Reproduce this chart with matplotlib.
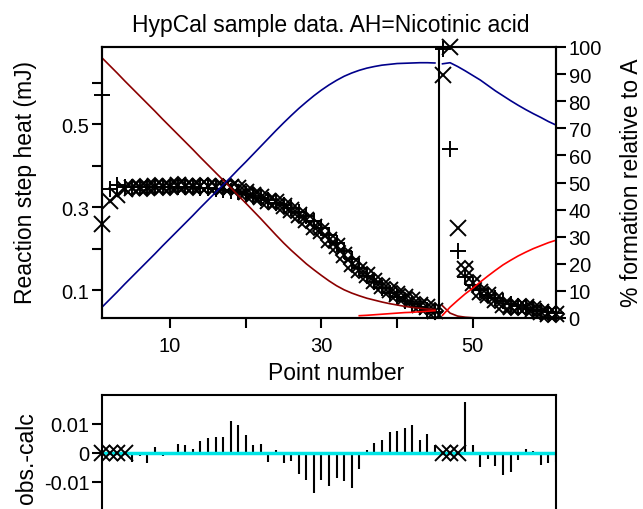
import numpy as np
import matplotlib
matplotlib.use("Agg")
import matplotlib.pyplot as plt

plt.rcParams["font.family"] = ["Liberation Sans", "DejaVu Sans"]
plt.rcParams["axes.unicode_minus"] = False

# point numbers, two titrations: 1-45 and 46-61
point_number = np.arange(1, 62)
run_break = 45
excluded = [1, 2, 3, 4, 46, 47, 48]

# observed heat (mJ), shown as x (and diamonds where not excluded)
heat_obs = np.array([
    0.260, 0.315, 0.330, 0.345, 0.346, 0.349, 0.347, 0.352, 0.349, 0.350,
    0.353, 0.352, 0.349, 0.351, 0.351, 0.349, 0.348, 0.350, 0.346, 0.338,
    0.330, 0.325, 0.314, 0.312, 0.302, 0.294, 0.282, 0.270, 0.252, 0.242,
    0.222, 0.206, 0.184, 0.162, 0.149, 0.136, 0.123, 0.110, 0.101, 0.091,
    0.083, 0.076, 0.064, 0.059, 0.049, 0.620, 0.686, 0.249, 0.150, 0.116,
    0.095, 0.087, 0.076, 0.065, 0.060, 0.060, 0.058, 0.054, 0.046, 0.043,
    0.042,
])
# calculated heat (mJ), shown as +
heat_calc = np.array([
    0.570, 0.345, 0.353, 0.350, 0.349, 0.350, 0.350, 0.350, 0.350, 0.350,
    0.350, 0.349, 0.348, 0.347, 0.346, 0.344, 0.342, 0.339, 0.336, 0.332,
    0.327, 0.322, 0.317, 0.311, 0.305, 0.297, 0.289, 0.279, 0.266, 0.251,
    0.234, 0.214, 0.194, 0.174, 0.154, 0.135, 0.119, 0.105, 0.094, 0.083,
    0.074, 0.066, 0.059, 0.052, 0.046, 0.681, 0.440, 0.195, 0.132, 0.113,
    0.100, 0.089, 0.080, 0.073, 0.067, 0.062, 0.057, 0.053, 0.050, 0.047,
    0.045,
])
# obs.-calc (0 for excluded points)
resid = np.array([
    0.0, 0.0, 0.0, 0.0, -0.0030, -0.0011, -0.0034, 0.0019, -0.0010, 0.0003,
    0.0032, 0.0027, 0.0014, 0.0043, 0.0051, 0.0054, 0.0056, 0.0110, 0.0097, 0.0062,
    0.0028, 0.0030, -0.0030, 0.0009, -0.0034, -0.0028, -0.0073, -0.0094, -0.0138, -0.0094,
    -0.0115, -0.0085, -0.0096, -0.0122, -0.0054, 0.0009, 0.0036, 0.0045, 0.0071, 0.0075,
    0.0085, 0.0096, 0.0045, 0.0066, 0.0028, 0.0, 0.0, 0.0, 0.0177, 0.0026,
    -0.0047, -0.0020, -0.0045, -0.0077, -0.0066, -0.0025, 0.0014, 0.0006, -0.0040, -0.0036,
    -0.0030,
])

# species distribution, % formation relative to A
pct_A = np.array([
    96.0, 93.2, 90.4, 87.5, 84.7, 81.9, 79.1, 76.3, 73.4, 70.6,
    67.8, 65.0, 62.2, 59.3, 56.5, 53.7, 50.9, 48.1, 45.2, 42.4,
    39.5, 36.6, 33.6, 30.6, 27.7, 25.0, 22.5, 20.0, 17.8, 15.7,
    13.7, 11.9, 10.4, 9.2, 8.2, 7.3, 6.6, 5.9, 5.3, 4.8,
    4.3, 3.9, 3.6, 3.3, 3.1, 4.5, 1.8, 0.7, 0.3, 0.1,
    0.0, 0.0, 0.0, 0.0, 0.0, 0.0, 0.0, 0.0, 0.0, 0.0,
    0.0,
])
pct_AH = np.array([
    4.0, 6.8, 9.6, 12.5, 15.3, 18.1, 20.9, 23.7, 26.6, 29.4,
    32.2, 35.0, 37.8, 40.7, 43.5, 46.3, 49.1, 51.9, 54.8, 57.6,
    60.5, 63.4, 66.3, 69.2, 72.0, 74.7, 77.3, 79.7, 82.0, 84.1,
    86.0, 87.7, 89.2, 90.4, 91.4, 92.2, 92.8, 93.3, 93.6, 93.9,
    94.0, 94.1, 94.2, 94.2, 94.1, 93.8, 94.2, 92.8, 91.2, 89.5,
    87.8, 85.8, 83.8, 82.0, 80.2, 78.5, 76.9, 75.4, 74.0, 72.5,
    71.2,
])
nan = np.nan
pct_AH2 = np.array([
    nan, nan, nan, nan, nan, nan, nan, nan, nan, nan,
    nan, nan, nan, nan, nan, nan, nan, nan, nan, nan,
    nan, nan, nan, nan, nan, nan, nan, nan, nan, nan,
    nan, nan, nan, nan, 0.85, 1.0, 1.2, 1.4, 1.6, 1.8,
    2.0, 2.1, 2.3, 2.5, 2.7, 1.0, 4.0, 6.5, 8.9, 11.0,
    13.3, 15.5, 17.6, 19.6, 21.3, 22.9, 24.3, 25.6, 26.7, 27.8,
    28.7,
])

W, H = 643, 510


def box(left, top, right, bottom):
    return [left / W, 1 - bottom / H, (right - left) / W, (bottom - top) / H]


fig = plt.figure(figsize=(W / 100, H / 100), dpi=100)
ax = fig.add_axes(box(102, 48, 556, 319))
ax2 = ax.twinx()
axr = fig.add_axes(box(102, 396, 556, 512))

is_excl = np.isin(point_number, excluded)
diamond = np.where(is_excl, np.nan, heat_obs)

mk = dict(linestyle="none", color="k", clip_on=False, mew=1.4)
ax.plot(point_number, heat_obs, marker="x", ms=12, **mk)
ax.plot(point_number, heat_calc, marker="+", ms=12, **mk)
ax.plot(point_number, diamond, marker="D", ms=8.5, mfc="none", **mk)
ax.axvline(run_break + 0.5, color="k", lw=1.5)

ax.set_xlim(1, 61)
ax.set_ylim(0.0325, 0.687)
ax.set_xticks([10, 30, 50])
ax.set_xticks([20, 40], minor=True)
ax.set_yticks([0.1, 0.3, 0.5], labels=["0.1", "0.3", "0.5"])
ax.set_yticks([0.2, 0.4, 0.6], minor=True)
ax.tick_params(which="both", direction="out", length=7, width=1.5,
               labelsize=14.5, pad=2, top=False, right=False)
ax.tick_params(axis="x", pad=6)

# species lines, each titration drawn separately
first = point_number <= run_break
second = ~first
for seg in (first, second):
    ax2.plot(point_number[seg], pct_A[seg], color="#8b0000", lw=1.2)
    ax2.plot(point_number[seg], pct_AH[seg], color="#00008b", lw=1.2)
    ax2.plot(point_number[seg], pct_AH2[seg], color="#ff0000", lw=1.2)
ax2.set_ylim(0, 100)
ax2.set_yticks(np.arange(0, 101, 10))
ax2.tick_params(direction="out", length=7, width=1.5, labelsize=14.5, pad=2)

for a in (ax, ax2, axr):
    for s in a.spines.values():
        s.set_linewidth(1.5)

# residual panel
incl = ~is_excl
axr.vlines(point_number[incl], 0, resid[incl], color="k", lw=1.5)
axr.axhline(0, color="#00e5e5", lw=2.5)
axr.plot(point_number[is_excl], resid[is_excl], marker="x", ms=12, **mk)
axr.set_xlim(1, 61)
axr.set_ylim(-0.02, 0.02)
axr.set_xticks([])
axr.set_yticks([-0.01, 0, 0.01], labels=["-0.01", "0", "0.01"])
axr.tick_params(direction="out", length=7, width=1.5, labelsize=14.5, pad=2)

fig.text(331 / W, 1 - 32 / H, "HypCal sample data. AH=Nicotinic acid",
         ha="center", va="baseline", fontsize=16.5)
fig.text(336 / W, 1 - 380 / H, "Point number", ha="center", va="baseline",
         fontsize=16.5)
fig.text(26 / W, 1 - 183 / H, "Reaction step heat (mJ)", rotation=90,
         ha="center", va="center", fontsize=16.5)
fig.text(631 / W, 1 - 183 / H, "% formation relative to A", rotation=90,
         ha="center", va="center", fontsize=16.5)
fig.text(26 / W, 1 - 458 / H, "obs.-calc", rotation=90,
         ha="center", va="center", fontsize=16.5)

fig.savefig("out.png", dpi=100)
